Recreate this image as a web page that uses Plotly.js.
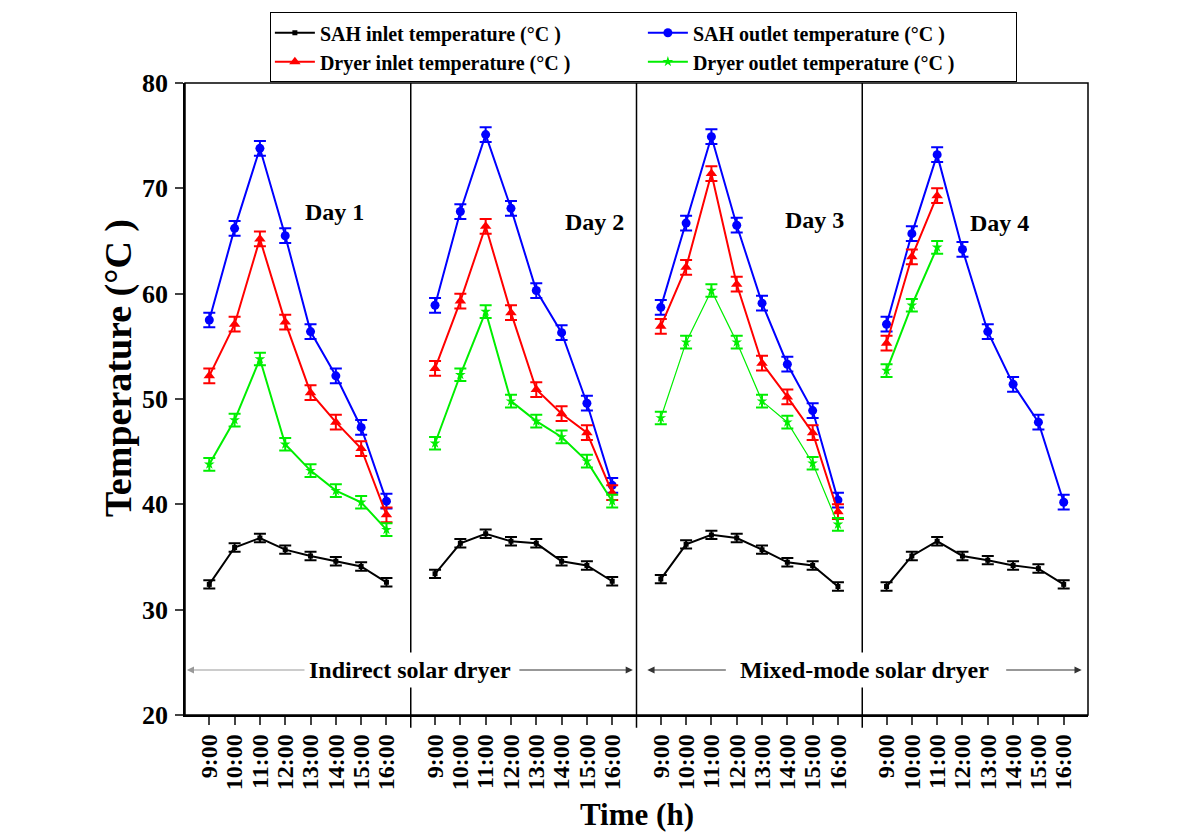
<!DOCTYPE html>
<html>
<head>
<meta charset="utf-8">
<script src="https://cdn.plot.ly/plotly-3.0.1.min.js"></script>
<style>html,body{margin:0;padding:0;background:#fff;}#chart{width:1201px;height:835px;}</style>
</head>
<body>
<div id="chart"></div>
<script>
const times = ['9:00','10:00','11:00','12:00','13:00','14:00','15:00','16:00'];
const dayLabels = ['Day 1','Day 2','Day 3','Day 4'];
const seriesNames = ['SAH inlet temperature (°C )','SAH outlet temperature (°C )','Dryer inlet temperature (°C )','Dryer outlet temperature (°C )'];

// values per day (Day 1..Day 4)
const sahInlet = [
  [32.4, 35.9, 36.8, 35.7, 35.1, 34.6, 34.1, 32.6],
  [33.4, 36.3, 37.2, 36.5, 36.3, 34.6, 34.2, 32.7],
  [32.9, 36.2, 37.1, 36.8, 35.7, 34.5, 34.2, 32.2],
  [32.2, 35.1, 36.5, 35.1, 34.7, 34.2, 33.9, 32.4]
];
const sahOutlet = [
  [57.5, 66.2, 73.8, 65.5, 56.4, 52.2, 47.3, 40.3],
  [58.9, 67.8, 75.1, 68.1, 60.3, 56.3, 49.6, 41.8],
  [58.7, 66.7, 74.9, 66.5, 59.1, 53.3, 48.9, 40.4],
  [57.1, 65.7, 73.2, 64.2, 56.4, 51.4, 47.8, 40.2]
];
const dryerInlet = [
  [52.2, 57.1, 65.2, 57.3, 50.6, 47.8, 45.3, 39.0],
  [52.9, 59.3, 66.4, 58.2, 50.9, 48.6, 46.8, 41.1],
  [56.9, 62.5, 71.4, 60.9, 53.4, 50.2, 46.8, 39.3],
  [55.3, 63.5, 69.3]
];
const dryerOutlet = [
  [43.8, 48.0, 53.8, 45.7, 43.2, 41.3, 40.2, 37.6],
  [45.8, 52.3, 58.3, 49.8, 47.9, 46.4, 44.1, 40.3],
  [48.2, 55.4, 60.3, 55.4, 49.8, 47.8, 43.9, 38.1],
  [52.7, 58.9, 64.4]
];
// error bar half-lengths
const sahInletErr   = [0.4, 0.4, 0.4, 0.4, 0.4, 0.4, 0.4, 0.4];
const sahOutletErr  = [0.7, 0.7, 0.7, 0.7, 0.7, 0.7, 0.7, 0.7];
const dryerInletErr = [0.7, 0.7, 0.7, 0.7, 0.7, 0.7, 0.7, 0.7];
const dryerOutletErr= [0.6, 0.6, 0.6, 0.6, 0.6, 0.6, 0.6, 0.6];

const FONT = 'Liberation Serif, Times New Roman, serif';
const series = [
  {vals: sahInlet, err: sahInletErr, color: '#000000', symbol: 'square', size: 5},
  {vals: sahOutlet, err: sahOutletErr, color: '#0000ff', symbol: 'circle', size: 9},
  {vals: dryerInlet, err: dryerInletErr, color: '#ff0000', symbol: 'triangle-up', size: 10},
  {vals: dryerOutlet, err: dryerOutletErr, color: '#00ee00', symbol: 'star', size: 8}
];

const traces = [];
series.forEach((s, si) => {
  for (let d = 0; d < 4; d++) {
    const y = s.vals[d];
    const lw = (si === 3 && d === 2) ? 1.2 : 2;
    traces.push({
      type: 'scatter', mode: 'lines+markers',
      x: times.slice(0, y.length), y: y,
      xaxis: d === 0 ? 'x' : 'x' + (d + 1), yaxis: 'y',
      name: seriesNames[si], legendgroup: 'g' + si, showlegend: d === 0,
      line: {color: s.color, width: lw},
      marker: {color: s.color, symbol: s.symbol, size: s.size},
      error_y: {type: 'data', array: s.err.slice(0, y.length), visible: true, color: s.color, thickness: 2, width: 6},
      hoverinfo: 'x+y'
    });
  }
});

const layout = {
  width: 1201, height: 835,
  margin: {l: 185, r: 113, t: 83, b: 120},
  paper_bgcolor: '#fff', plot_bgcolor: '#fff',
  showlegend: true,
  legend: {
    orientation: 'h', x: 0.094, y: 1.112, xanchor: 'left', yanchor: 'top',
    bordercolor: '#000', borderwidth: 1, bgcolor: '#fff',
    entrywidth: 318, entrywidthmode: 'pixels',
    font: {family: FONT, size: 20, color: '#000', weight: 'bold'},
    itemwidth: 40, tracegroupgap: 0
  },
  yaxis: {
    range: [20, 80], dtick: 10, tick0: 20, ticks: 'outside', ticklen: 8, tickwidth: 1.5,
    showline: true, linecolor: '#000', linewidth: 1.5, showgrid: false, zeroline: false,
    tickfont: {family: FONT, size: 26, color: '#000', weight: 'bold'},
    ticklabelstandoff: 2
  },
  annotations: [],
  shapes: []
};

const domains = [[0, 0.25], [0.25, 0.5], [0.5, 0.75], [0.75, 1]];
for (let d = 0; d < 4; d++) {
  const key = d === 0 ? 'xaxis' : 'xaxis' + (d + 1);
  layout[key] = {
    type: 'category', categoryorder: 'array', categoryarray: times,
    tickmode: 'array', tickvals: times, ticktext: times,
    domain: domains[d], range: [-0.96, 7.96], anchor: 'y',
    ticks: 'outside', ticklen: 8, tickwidth: 1.5, tickangle: -90,
    showline: true, linecolor: '#000', linewidth: 1.5, showgrid: false, zeroline: false,
    tickfont: {family: FONT, size: 24, color: '#000', weight: 'bold'}
  };
}

// axis titles
layout.annotations.push({
  xref: 'paper', yref: 'paper', x: 0.5, y: -0.158, xanchor: 'center', yanchor: 'middle', showarrow: false,
  text: 'Time (h)', font: {family: FONT, size: 31, color: '#000', weight: 'bold'}
});
layout.annotations.push({
  xref: 'paper', yref: 'paper', x: (118 - 185) / 903, y: (715 - 368) / 632, xanchor: 'center', yanchor: 'middle',
  showarrow: false, textangle: -90,
  text: 'Temperature (°C )', font: {family: FONT, size: 38, color: '#000', weight: 'bold'}
});

// Day labels
const dayX = [0.664, 0.816, 0.79, 0.61];
const dayY = [67.75, 66.8, 67.0, 66.7];
dayLabels.forEach((t, i) => {
  const xa = i === 0 ? 'x' : 'x' + (i + 1);
  layout.annotations.push({
    xref: xa + ' domain', yref: 'y', x: dayX[i], y: dayY[i], xanchor: 'center', yanchor: 'middle',
    text: t, showarrow: false, font: {family: FONT, size: 24, color: '#000', weight: 'bold'}
  });
});

// frame and separators
layout.shapes.push({type: 'rect', xref: 'paper', yref: 'paper', x0: 0, x1: 1, y0: 0, y1: 1,
  line: {color: '#000', width: 1.5}, layer: 'below'});
[0.25, 0.5, 0.75].forEach(x => {
  layout.shapes.push({type: 'line', xref: 'paper', yref: 'paper', x0: x, x1: x, y0: -0.02, y1: 1,
    line: {color: '#000', width: 1.5}, layer: 'below'});
});

// dryer type labels with arrows
const arrowY = 24.3;
layout.annotations.push(
  {xref: 'paper', yref: 'paper', x: 0.002, y: (715 - 670) / 632, ax: 123, ay: 0, text: '', showarrow: true,
   arrowhead: 2, arrowsize: 1.2, arrowwidth: 1.2, arrowcolor: '#999'},
  {xref: 'paper', yref: 'paper', x: 0.496, y: (715 - 670) / 632, ax: -115, ay: 0, text: '', showarrow: true,
   arrowhead: 2, arrowsize: 1.2, arrowwidth: 1.2, arrowcolor: '#333'},
  {xref: 'paper', yref: 'paper', x: 0.512, y: (715 - 670) / 632, ax: 80, ay: 0, text: '', showarrow: true,
   arrowhead: 2, arrowsize: 1.2, arrowwidth: 1.2, arrowcolor: '#333'},
  {xref: 'paper', yref: 'paper', x: 0.993, y: (715 - 670) / 632, ax: -77, ay: 0, text: '', showarrow: true,
   arrowhead: 2, arrowsize: 1.2, arrowwidth: 1.2, arrowcolor: '#333'},
  {xref: 'paper', yref: 'paper', x: 0.249, y: (715 - 670) / 632, xanchor: 'center', yanchor: 'middle',
   text: 'Indirect solar dryer', showarrow: false, bgcolor: '#fff', borderpad: 4,
   font: {family: FONT, size: 24, color: '#000', weight: 'bold'}},
  {xref: 'paper', yref: 'paper', x: 0.753, y: (715 - 670) / 632, xanchor: 'center', yanchor: 'middle',
   text: 'Mixed-mode solar dryer', showarrow: false, bgcolor: '#fff', borderpad: 4,
   font: {family: FONT, size: 24, color: '#000', weight: 'bold'}}
);

Plotly.newPlot('chart', traces, layout, {displayModeBar: false, responsive: false});
</script>
</body>
</html>
